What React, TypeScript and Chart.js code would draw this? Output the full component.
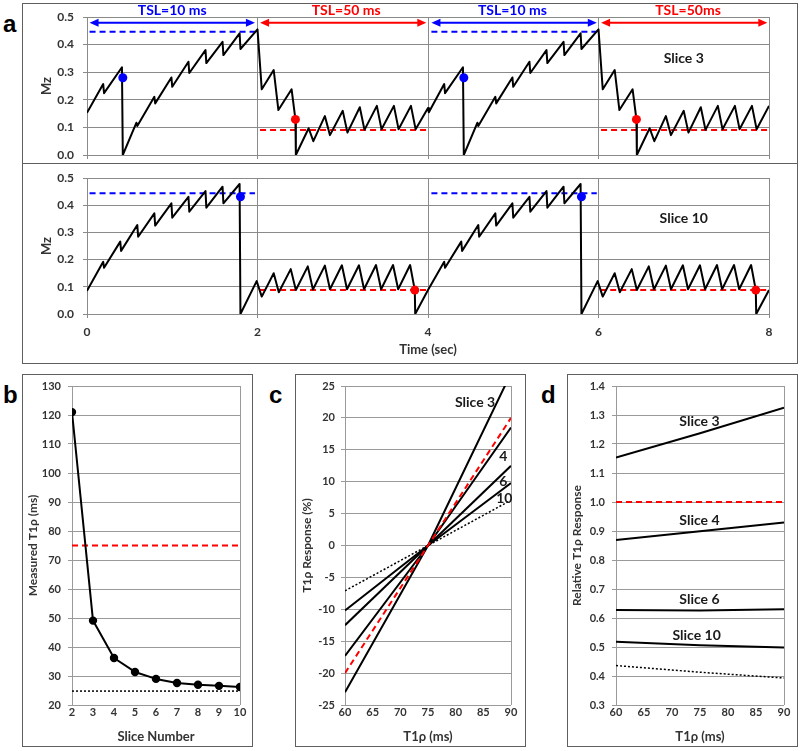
import React, { useEffect, useRef } from "react";
import { Chart, registerables } from "chart.js";

Chart.register(...registerables);

const FONT = "Lato, 'Liberation Sans', sans-serif";
const TICK_COLOR = "#333333";
const GRID_A = "#8a8a8a";
const GRID_B = "#9a9a9a";
const FRAME = "#5f5f5f";
const BLUE = "#0000ff";
const RED = "#ff0000";

// ---------- Panel a : Slice 3 (top) ----------
const slice3Time = [
  0, 0.19, 0.2, 0.41, 0.42, 0.58, 0.59, 0.79, 0.8, 0.99, 1.0, 1.19, 1.2, 1.39, 1.4, 1.59, 1.6, 1.79, 1.8, 2.0,
  2.05, 2.19, 2.245, 2.4, 2.445, 2.45, 2.6, 2.655, 2.79, 2.85, 3.0, 3.055, 3.2, 3.255, 3.4, 3.455, 3.6, 3.655, 3.8, 3.855, 4.0,
  4.01, 4.19, 4.2, 4.41, 4.42, 4.58, 4.59, 4.79, 4.8, 4.99, 5.0, 5.19, 5.2, 5.39, 5.4, 5.59, 5.6, 5.79, 5.8, 6.0,
  6.05, 6.19, 6.245, 6.4, 6.445, 6.45, 6.6, 6.655, 6.79, 6.85, 7.0, 7.055, 7.2, 7.255, 7.4, 7.455, 7.6, 7.655, 7.8, 7.855, 8.0,
];
const slice3Mz = [
  0.153, 0.257, 0.224, 0.318, 0.0, 0.117, 0.105, 0.211, 0.187, 0.281, 0.247, 0.338, 0.297, 0.38, 0.333, 0.41, 0.362, 0.441, 0.384, 0.455,
  0.238, 0.308, 0.163, 0.238, 0.129, 0.0, 0.097, 0.05, 0.141, 0.072, 0.16, 0.081, 0.173, 0.091, 0.178, 0.093, 0.178, 0.093, 0.178, 0.093, 0.17,
  0.155, 0.257, 0.224, 0.318, 0.0, 0.117, 0.105, 0.211, 0.187, 0.281, 0.247, 0.338, 0.297, 0.38, 0.333, 0.41, 0.362, 0.441, 0.384, 0.455,
  0.238, 0.308, 0.163, 0.238, 0.129, 0.0, 0.097, 0.05, 0.141, 0.072, 0.16, 0.081, 0.173, 0.091, 0.178, 0.093, 0.178, 0.093, 0.178, 0.093, 0.178,
];
const slice3BlueDotTime = [0.42, 4.42];
const slice3BlueDotMz = [0.28, 0.28];
const slice3RedDotTime = [2.445, 6.445];
const slice3RedDotMz = [0.129, 0.129];
const slice3BlueLevel = 0.447;
const slice3RedLevel = 0.091;

// ---------- Panel a : Slice 10 (bottom) ----------
const slice10Time = [
  0, 0.19, 0.2, 0.39, 0.4, 0.59, 0.6, 0.79, 0.8, 0.99, 1.0, 1.19, 1.2, 1.39, 1.4, 1.59, 1.6, 1.79, 1.8,
  1.99, 2.05, 2.19, 2.25, 2.39, 2.45, 2.59, 2.65, 2.79, 2.85, 2.99, 3.05, 3.19, 3.25, 3.39, 3.45, 3.59, 3.65, 3.79, 3.845, 3.85, 4.0,
  4.19, 4.2, 4.39, 4.4, 4.59, 4.6, 4.79, 4.8, 4.99, 5.0, 5.19, 5.2, 5.39, 5.4, 5.59, 5.6, 5.79, 5.8,
  5.99, 6.05, 6.19, 6.25, 6.39, 6.45, 6.59, 6.65, 6.79, 6.85, 6.99, 7.05, 7.19, 7.25, 7.39, 7.45, 7.59, 7.65, 7.79, 7.845, 7.85, 8.0,
];
const slice10Mz = [
  0.085, 0.192, 0.17, 0.266, 0.232, 0.327, 0.284, 0.37, 0.325, 0.407, 0.354, 0.431, 0.376, 0.452, 0.391, 0.468, 0.407, 0.478, 0.0,
  0.121, 0.064, 0.15, 0.08, 0.165, 0.088, 0.175, 0.09, 0.178, 0.091, 0.179, 0.091, 0.179, 0.091, 0.18, 0.091, 0.18, 0.091, 0.18, 0.088, 0.0, 0.088,
  0.192, 0.17, 0.266, 0.232, 0.327, 0.284, 0.37, 0.325, 0.407, 0.354, 0.431, 0.376, 0.452, 0.391, 0.468, 0.407, 0.478, 0.0,
  0.121, 0.064, 0.15, 0.08, 0.165, 0.088, 0.175, 0.09, 0.178, 0.091, 0.179, 0.091, 0.179, 0.091, 0.18, 0.091, 0.18, 0.091, 0.18, 0.088, 0.0, 0.088,
];
const slice10BlueDotTime = [1.8, 5.8];
const slice10BlueDotMz = [0.431, 0.431];
const slice10RedDotTime = [3.845, 7.845];
const slice10RedDotMz = [0.088, 0.088];
const slice10BlueLevel = 0.444;
const slice10RedLevel = 0.088;

// TSL windows (reference lines & arrows)
const blueWindows = [[0.03, 1.97], [4.04, 5.98]];
const redWindows = [[2.03, 3.98], [6.03, 7.98]];
const arrowLevel = 0.479;
const tslLabels = ["TSL=10 ms", "TSL=50 ms", "TSL=10 ms", "TSL=50ms"];
const tslLabelTime = [1.0, 3.04, 4.99, 7.05];
const tslLabelColors = [BLUE, RED, BLUE, RED];
const tslLabelLevel = 0.525;

// ---------- Panel b ----------
const sliceNumbers = [2, 3, 4, 5, 6, 7, 8, 9, 10];
const measuredT1rho = [121, 49.1, 36.2, 31.4, 29.0, 27.6, 27.0, 26.6, 26.2];
const trueT1rho = 75;
const t2Floor = 24.8;

// ---------- Panel c ----------
const t1rhoAxis = [60, 75, 90];
const respIdeal = [-20, 0, 20];
const respSlice3 = [-23, 0, 27];
const respSlice4 = [-17.3, 0, 18.5];
const respSlice6 = [-12.5, 0, 12.5];
const respSlice10 = [-10.2, 0, 9.8];
const respDotted = [-7.1, 0, 7.1];

// ---------- Panel d ----------
const relIdeal = [1.0, 1.0, 1.0];
const relSlice3 = [1.153, 1.237, 1.325];
const relSlice4 = [0.869, 0.899, 0.929];
const relSlice6 = [0.628, 0.626, 0.63];
const relSlice10 = [0.518, 0.506, 0.498];
const relDotted = [0.436, 0.413, 0.393];

// ---------- helpers ----------
const pts = (xs: number[], ys: number[]) => xs.map((x, i) => ({ x, y: ys[i] }));
const seg = (r: number[], y: number) => [{ x: r[0], y }, { x: r[1], y }];
const bold = (size: number) => ({ family: FONT, size, weight: "bold" as const });

const fix = (w?: number, h?: number) => (scale: any) => {
  if (w !== undefined) scale.width = w;
  if (h !== undefined) scale.height = h;
  scale.paddingLeft = 0;
  scale.paddingRight = 0;
  scale.paddingTop = 0;
  scale.paddingBottom = 0;
};

type TextAnn = { x: number; y: number; text: string; color: string; font: string };
type ArrowAnn = { x1: number; x2: number; y: number; color: string };

const annPlugin = (texts: TextAnn[], arrows: ArrowAnn[]) => ({
  id: "ann",
  afterDatasetsDraw(chart: any) {
    const ctx = chart.ctx;
    const xs = chart.scales.x;
    const ys = chart.scales.y;
    ctx.save();
    for (const a of arrows) {
      const x1 = xs.getPixelForValue(a.x1);
      const x2 = xs.getPixelForValue(a.x2);
      const y = ys.getPixelForValue(a.y);
      const hl = 9;
      const hw = 4;
      ctx.strokeStyle = a.color;
      ctx.fillStyle = a.color;
      ctx.lineWidth = 2;
      ctx.beginPath();
      ctx.moveTo(x1 + hl - 1, y);
      ctx.lineTo(x2 - hl + 1, y);
      ctx.stroke();
      ctx.beginPath();
      ctx.moveTo(x1, y);
      ctx.lineTo(x1 + hl, y - hw);
      ctx.lineTo(x1 + hl, y + hw);
      ctx.closePath();
      ctx.fill();
      ctx.beginPath();
      ctx.moveTo(x2, y);
      ctx.lineTo(x2 - hl, y - hw);
      ctx.lineTo(x2 - hl, y + hw);
      ctx.closePath();
      ctx.fill();
    }
    for (const t of texts) {
      ctx.font = t.font;
      ctx.fillStyle = t.color;
      ctx.textAlign = "center";
      ctx.textBaseline = "middle";
      ctx.fillText(t.text, xs.getPixelForValue(t.x), ys.getPixelForValue(t.y));
    }
    ctx.restore();
  },
});

const lineDs = (data: any[], color: string, width: number, dash: number[] = []) => ({
  data,
  showLine: true,
  borderColor: color,
  borderWidth: width,
  borderDash: dash,
  borderJoinStyle: "round",
  pointRadius: 0,
  tension: 0,
});
const dotDs = (data: any[], color: string, r: number) => ({
  data,
  showLine: false,
  pointRadius: r,
  pointBackgroundColor: color,
  pointBorderColor: color,
  pointBorderWidth: 0,
});

const baseOpts = {
  responsive: false,
  animation: false,
  events: [],
  plugins: { legend: { display: false }, tooltip: { enabled: false } },
};

function panelA(
  time: number[], mz: number[],
  bT: number[], bM: number[], rT: number[], rM: number[],
  blueLevel: number, redLevel: number,
  bottom: boolean, sliceLabel: string,
) {
  const texts: TextAnn[] = [
    { x: 7.0, y: 0.351, text: sliceLabel, color: "#1a1a1a", font: `bold 14px ${FONT}` },
  ];
  const arrows: ArrowAnn[] = [];
  if (!bottom) {
    tslLabels.forEach((t, i) =>
      texts.push({ x: tslLabelTime[i], y: tslLabelLevel, text: t, color: tslLabelColors[i], font: `bold 14px ${FONT}` }),
    );
    blueWindows.forEach((w) => arrows.push({ x1: w[0], x2: w[1], y: arrowLevel, color: BLUE }));
    redWindows.forEach((w) => arrows.push({ x1: w[0], x2: w[1], y: arrowLevel, color: RED }));
  }
  const redRefWindows = bottom ? [[2.03, 3.98], [6.02, 8.0]] : redWindows;
  return {
    type: "scatter",
    data: {
      datasets: [
        dotDs(pts(bT, bM), BLUE, 4.5),
        dotDs(pts(rT, rM), RED, 4.5),
        lineDs(pts(time, mz), "#000", 2),
        ...blueWindows.map((w) => lineDs(seg(w, blueLevel), BLUE, 2, [6, 4])),
        ...redRefWindows.map((w) => lineDs(seg(w, redLevel), RED, 2, [6, 4])),
      ],
    },
    options: {
      ...baseOpts,
      layout: { padding: { left: 0, right: 29, top: bottom ? 15 : 14, bottom: 0 } },
      scales: {
        x: {
          type: "linear",
          min: 0,
          max: 8,
          ticks: { display: bottom, stepSize: 2, padding: 6.5, color: TICK_COLOR, font: bold(12) },
          grid: { color: GRID_A, drawTicks: true, tickLength: 4 },
          border: { display: false },
          title: bottom
            ? { display: true, text: "Time (sec)", color: TICK_COLOR, font: bold(13), padding: { top: 0, bottom: 6 } }
            : { display: false },
          afterFit: fix(undefined, bottom ? 50 : 9),
        },
        y: {
          type: "linear",
          min: 0,
          max: 0.5,
          ticks: { stepSize: 0.1, padding: 9, color: TICK_COLOR, font: bold(12), callback: (v: any) => Number(v).toFixed(1) },
          grid: { color: GRID_A, drawTicks: true, tickLength: 4 },
          border: { color: GRID_A },
          title: { display: true, text: "Mz", color: TICK_COLOR, font: bold(13), padding: { top: 17, bottom: 0 } },
          afterFit: fix(65),
        },
      },
    },
    plugins: [annPlugin(texts, arrows)],
  };
}

function smallPanel(opts: {
  datasets: any[];
  xMin: number; xMax: number; xStep: number; xTitle: string;
  yMin: number; yMax: number; yStep: number; yTitle: string; yDec?: number;
  yWidth: number; yPad: number; yTitlePad: number; rightPad: number;
  texts: TextAnn[];
}) {
  return {
    type: "scatter",
    data: { datasets: opts.datasets },
    options: {
      ...baseOpts,
      layout: { padding: { left: 0, right: opts.rightPad, top: 12, bottom: 0 } },
      scales: {
        x: {
          type: "linear",
          min: opts.xMin,
          max: opts.xMax,
          ticks: { stepSize: opts.xStep, padding: 1, color: TICK_COLOR, font: bold(11) },
          grid: {
            color: (c: any) => (c.tick && c.tick.value === opts.xMax ? GRID_B : "rgba(0,0,0,0)"),
            drawTicks: false,
          },
          border: { display: false },
          title: { display: true, text: opts.xTitle, color: TICK_COLOR, font: bold(13), padding: { top: 0, bottom: 2.5 } },
          afterFit: fix(undefined, 42),
        },
        y: {
          type: "linear",
          min: opts.yMin,
          max: opts.yMax,
          ticks: {
            stepSize: opts.yStep,
            padding: opts.yPad,
            color: TICK_COLOR,
            font: bold(11),
            callback: (v: any) => (opts.yDec !== undefined ? Number(v).toFixed(opts.yDec) : String(Math.round(Number(v)))),
          },
          grid: { color: GRID_B, drawTicks: true, tickLength: 4 },
          border: { color: GRID_B },
          title: { display: true, text: opts.yTitle, color: TICK_COLOR, font: bold(12), padding: { top: opts.yTitlePad, bottom: 0 } },
          afterFit: fix(opts.yWidth),
        },
      },
    },
    plugins: [annPlugin(opts.texts, [])],
  };
}

const configA1 = () =>
  panelA(slice3Time, slice3Mz, slice3BlueDotTime, slice3BlueDotMz, slice3RedDotTime, slice3RedDotMz,
    slice3BlueLevel, slice3RedLevel, false, "Slice 3");
const configA2 = () =>
  panelA(slice10Time, slice10Mz, slice10BlueDotTime, slice10BlueDotMz, slice10RedDotTime, slice10RedDotMz,
    slice10BlueLevel, slice10RedLevel, true, "Slice 10");

const configB = () => {
  const ds = lineDs(pts(sliceNumbers, measuredT1rho), "#000", 2);
  (ds as any).pointRadius = 3.2;
  (ds as any).pointBackgroundColor = "#000";
  (ds as any).pointBorderColor = "#000";
  return smallPanel({
    datasets: [
      ds,
      lineDs(seg([2, 10], trueT1rho), RED, 2, [6, 4]),
      lineDs(seg([2, 10], t2Floor), "#000", 1.5, [2, 2]),
    ],
    xMin: 2, xMax: 10, xStep: 1, xTitle: "Slice Number",
    yMin: 20, yMax: 130, yStep: 10, yTitle: "Measured T1ρ (ms)",
    yWidth: 50, yPad: 7, yTitlePad: 4, rightPad: 13,
    texts: [],
  });
};

const configC = () =>
  smallPanel({
    datasets: [
      lineDs(pts(t1rhoAxis, respIdeal), RED, 2, [6, 4]),
      lineDs(pts(t1rhoAxis, respSlice3), "#000", 2),
      lineDs(pts(t1rhoAxis, respSlice4), "#000", 2),
      lineDs(pts(t1rhoAxis, respSlice6), "#000", 2),
      lineDs(pts(t1rhoAxis, respSlice10), "#000", 2),
      lineDs(pts(t1rhoAxis, respDotted), "#000", 1.5, [2, 2]),
    ],
    xMin: 60, xMax: 90, xStep: 5, xTitle: "T1ρ (ms)",
    yMin: -25, yMax: 25, yStep: 5, yTitle: "T1ρ Response (%)",
    yWidth: 50, yPad: 6, yTitlePad: 4.5, rightPad: 15,
    texts: [
      { x: 83.5, y: 22.4, text: "Slice 3", color: "#1a1a1a", font: `bold 14px ${FONT}` },
      { x: 88.6, y: 14.0, text: "4", color: "#1a1a1a", font: `bold 14px ${FONT}` },
      { x: 88.6, y: 10.0, text: "6", color: "#1a1a1a", font: `bold 14px ${FONT}` },
      { x: 88.8, y: 7.4, text: "10", color: "#1a1a1a", font: `bold 14px ${FONT}` },
    ],
  });

const configD = () =>
  smallPanel({
    datasets: [
      lineDs(pts(t1rhoAxis, relIdeal), RED, 2, [6, 4]),
      lineDs(pts(t1rhoAxis, relSlice3), "#000", 2),
      lineDs(pts(t1rhoAxis, relSlice4), "#000", 2),
      lineDs(pts(t1rhoAxis, relSlice6), "#000", 2),
      lineDs(pts(t1rhoAxis, relSlice10), "#000", 2),
      lineDs(pts(t1rhoAxis, relDotted), "#000", 1.5, [2, 2]),
    ],
    xMin: 60, xMax: 90, xStep: 5, xTitle: "T1ρ (ms)",
    yMin: 0.3, yMax: 1.4, yStep: 0.1, yTitle: "Relative T1ρ Response", yDec: 1,
    yWidth: 49, yPad: 7, yTitlePad: 2.5, rightPad: 14,
    texts: [
      { x: 74.9, y: 1.277, text: "Slice 3", color: "#1a1a1a", font: `bold 14px ${FONT}` },
      { x: 74.9, y: 0.936, text: "Slice 4", color: "#1a1a1a", font: `bold 14px ${FONT}` },
      { x: 74.9, y: 0.664, text: "Slice 6", color: "#1a1a1a", font: `bold 14px ${FONT}` },
      { x: 74.4, y: 0.541, text: "Slice 10", color: "#1a1a1a", font: `bold 14px ${FONT}` },
    ],
  });

function ChartBox({ x, y, w, h, make }: { x: number; y: number; w: number; h: number; make: () => any }) {
  const ref = useRef<HTMLCanvasElement>(null);
  useEffect(() => {
    const chart = new Chart(ref.current as HTMLCanvasElement, make());
    return () => chart.destroy();
  }, []);
  return (
    <div style={{ position: "absolute", left: x, top: y, width: w, height: h }}>
      <canvas ref={ref} width={w} height={h} style={{ position: "absolute", left: 0, top: 0, width: w, height: h }} />
      <div
        style={{
          position: "absolute", left: 0, top: 0, width: w, height: h,
          border: "1px solid " + FRAME, boxSizing: "border-box", pointerEvents: "none",
        }}
      />
    </div>
  );
}

function Letter({ x, y, t }: { x: number; y: number; t: string }) {
  return (
    <div
      style={{
        position: "absolute", left: x, top: y, fontFamily: "'Liberation Sans', Arial, sans-serif",
        fontWeight: "bold", fontSize: 24, lineHeight: "24px", color: "#000",
      }}
    >
      {t}
    </div>
  );
}

export default function App() {
  return (
    <div style={{ position: "absolute", left: 0, top: 0, width: 800, height: 751, background: "#fff", overflow: "hidden" }}>
      <Letter x={3} y={12} t="a" />
      <Letter x={3} y={383} t="b" />
      <Letter x={269} y={383} t="c" />
      <Letter x={541} y={383} t="d" />
      <ChartBox x={22} y={3} w={776} h={161} make={configA1} />
      <ChartBox x={22} y={163} w={776} h={201} make={configA2} />
      <ChartBox x={22} y={374} w={231} h={373} make={configB} />
      <ChartBox x={295} y={374} w={231} h={373} make={configC} />
      <ChartBox x={567} y={374} w={231} h={373} make={configD} />
    </div>
  );
}
